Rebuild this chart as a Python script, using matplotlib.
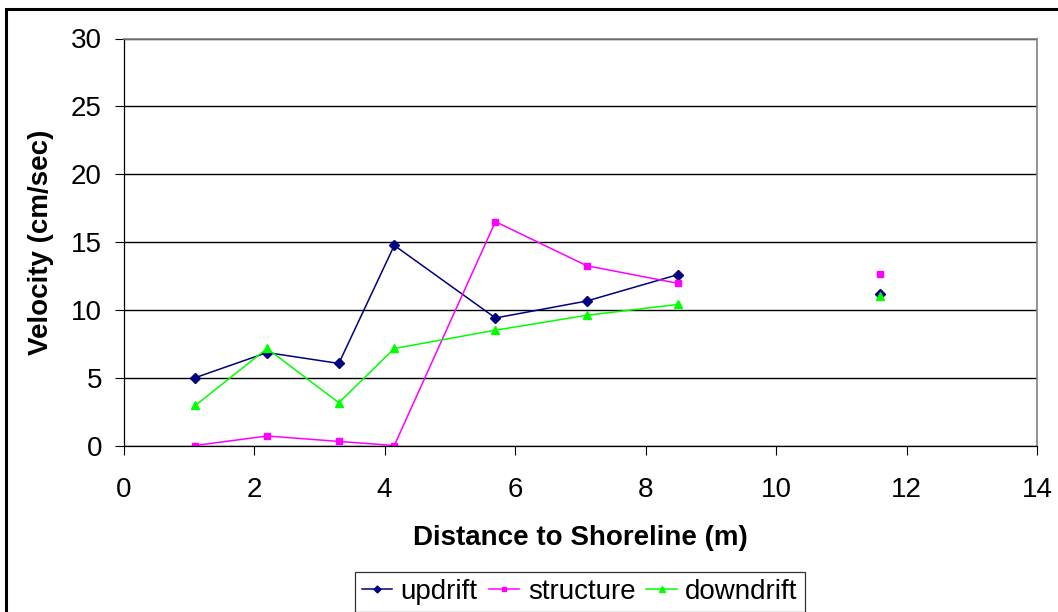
import matplotlib.pyplot as plt
import numpy as np
from matplotlib.patches import Rectangle

plt.rcParams['font.family'] = ['Liberation Sans', 'DejaVu Sans']

# distance to shoreline (m); the 10 m station has no reading, so lines break there
distance = [1.1, 2.2, 3.3, 4.15, 5.7, 7.1, 8.5, 10.0, 11.6]
updrift = [5.0, 6.85, 6.05, 14.75, 9.4, 10.65, 12.6, np.nan, 11.15]
structure = [0.0, 0.7, 0.3, 0.0, 16.5, 13.25, 11.95, np.nan, 12.65]
downdrift = [2.95, 7.15, 3.15, 7.15, 8.5, 9.6, 10.4, np.nan, 11.05]

x_ticks = [0, 2, 4, 6, 8, 10, 12, 14]
y_ticks = [0, 5, 10, 15, 20, 25, 30]

fig = plt.figure(figsize=(10.58, 6.12), dpi=100)
ax = fig.add_axes([123.5 / 1058, 1 - 445.5 / 612, (1037 - 123.5) / 1058, (445.5 - 38.5) / 612])

ax.plot(distance, updrift, color='#000080', marker='D', markersize=5, lw=1.1, label='updrift')
ax.plot(distance, structure, color='#FF00FF', marker='s', markersize=5, lw=1.1, label='structure')
ax.plot(distance, downdrift, color='#00FF00', marker='^', markersize=6, lw=1.1, label='downdrift')

ax.set_xlim(0, 14)
ax.set_ylim(0, 30)
ax.set_xticks(x_ticks)
ax.set_yticks(y_ticks)
ax.yaxis.grid(True, color='black', lw=1.0)
ax.set_axisbelow(True)

ax.tick_params(axis='both', direction='out', length=6.5, width=0.8, labelsize=20, color='black')
ax.tick_params(axis='y', pad=9)
ax.tick_params(axis='x', pad=16.5)

for side in ['left', 'bottom']:
    ax.spines[side].set_color('black')
    ax.spines[side].set_linewidth(0.9)
for side in ['top', 'right']:
    ax.spines[side].set_color('#808080')
    ax.spines[side].set_linewidth(1.2)

ax.set_xlabel('Distance to Shoreline (m)', fontsize=20, fontweight='bold', labelpad=15.5)
ax.set_ylabel('Velocity (cm/sec)', fontsize=20, fontweight='bold', labelpad=12)

leg = fig.legend(loc='upper center', bbox_to_anchor=(0.548, 1 - 572 / 612), ncol=3,
                 fontsize=20, frameon=True, fancybox=False, edgecolor='black',
                 handlelength=1.1, handletextpad=0.3, columnspacing=0.4,
                 borderpad=0.25, borderaxespad=0, markerscale=0.7)
leg.get_frame().set_linewidth(0.9)

# outer chart border (only top and left visible in the crop)
fig.patches.append(Rectangle((6 / 1058, -0.2), 1.2, 1.2 - 9 / 612, transform=fig.transFigure,
                             fill=False, edgecolor='black', lw=2.2, clip_on=False))

fig.savefig('out.png', dpi=100)
